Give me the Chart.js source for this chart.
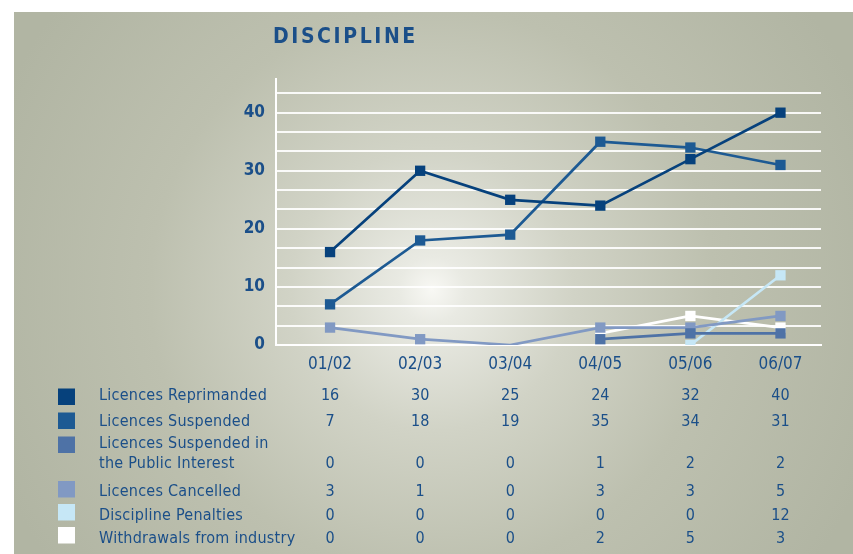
<!DOCTYPE html>
<html>
<head>
<meta charset="utf-8">
<script src="https://cdn.jsdelivr.net/npm/chart.js@4"></script>
<style>
  html, body { margin: 0; padding: 0; background: #fff; }
  #wrap { width: 853px; height: 554px; position: relative; }
</style>
</head>
<body>
<div id="wrap"><canvas id="myChart" width="853" height="554"></canvas></div>
<script>
// data
var categories = ['01/02', '02/03', '03/04', '04/05', '05/06', '06/07'];
var seriesNames = ['Licences Reprimanded', 'Licences Suspended', 'Licences Suspended in\nthe Public Interest',
  'Licences Cancelled', 'Discipline Penalties', 'Withdrawals from industry'];
var reprimanded = [16, 30, 25, 24, 32, 40];
var suspended = [7, 18, 19, 35, 34, 31];
var suspendedPublic = [0, 0, 0, 1, 2, 2];
var cancelled = [3, 1, 0, 3, 3, 5];
var penalties = [0, 0, 0, 0, 0, 12];
var withdrawals = [0, 0, 0, 2, 5, 3];
// first category where each line starts on the chart
var firstPlotted = [0, 0, 3, 0, 4, 3];
var yTickLabels = ['0', '10', '20', '30', '40'];

var allSeries = [reprimanded, suspended, suspendedPublic, cancelled, penalties, withdrawals];
var colors = ['#06417c', '#1d5a93', '#4e72a6', '#8199c3', '#c6e7f6', '#ffffff'];
var textColor = '#1b4f89';
var narrow = "'DejaVu Sans Condensed', 'DejaVu Sans', sans-serif";

var datasets = allSeries.map(function (vals, s) {
  return {
    label: seriesNames[s],
    data: vals.map(function (v, i) { return { x: i, y: i < firstPlotted[s] ? null : v }; }),
    borderColor: colors[s],
    backgroundColor: colors[s],
    borderWidth: 2.7,
    pointStyle: 'rect',
    pointRadius: function (c) { return (s === 3 && c.dataIndex === 2) ? 0 : 7.3; },
    pointBorderWidth: 0,
    tension: 0,
    spanGaps: false
  };
});

// background + title + table
var decor = {
  id: 'decor',
  beforeDraw: function (chart) {
    var ctx = chart.ctx;
    ctx.save();
    ctx.fillStyle = '#ffffff';
    ctx.fillRect(0, 0, 853, 554);
    var g = ctx.createRadialGradient(432, 290, 0, 432, 290, 470);
    g.addColorStop(0, '#f8f8f4');
    g.addColorStop(0.07, '#e9eae3');
    g.addColorStop(0.3, '#d1d3c6');
    g.addColorStop(0.6, '#bdc0af');
    g.addColorStop(1, '#b1b5a3');
    ctx.fillStyle = g;
    ctx.fillRect(14, 12, 839, 542);
    ctx.restore();
  },
  afterDraw: function (chart) {
    var ctx = chart.ctx;
    var xs = chart.scales.x;
    ctx.save();
    ctx.fillStyle = textColor;
    ctx.textBaseline = 'middle';
    ctx.letterSpacing = '2.6px';
    ctx.font = 'bold 21px ' + narrow;
    ctx.textAlign = 'left';
    ctx.fillText('DISCIPLINE', 273, 38);

    var rowY = [396, 421.5, 464, 491.5, 515.5, 538.5];
    var boxY = [388.5, 412.5, 436.5, 481, 504, 527];
    ctx.font = '16px ' + narrow;
    for (var s = 0; s < allSeries.length; s++) {
      ctx.fillStyle = colors[s];
      ctx.fillRect(58, boxY[s], 17, 16.5);
      ctx.fillStyle = textColor;
      ctx.letterSpacing = '0.25px';
      ctx.textAlign = 'left';
      var lines = seriesNames[s].split('\n');
      for (var l = 0; l < lines.length; l++) {
        ctx.fillText(lines[l], 99, rowY[s] - (lines.length - 1 - l) * 20);
      }
      ctx.letterSpacing = '0px';
      ctx.textAlign = 'center';
      for (var i = 0; i < categories.length; i++) {
        ctx.fillText(String(allSeries[s][i]), xs.getPixelForValue(i), rowY[s]);
      }
    }
    ctx.restore();
  }
};

var ctx = document.getElementById('myChart').getContext('2d');
var chart = new Chart(ctx, {
  type: 'line',
  data: { datasets: datasets },
  plugins: [decor],
  options: {
    responsive: false,
    animation: false,
    layout: { padding: { top: 79, right: 32, left: 0, bottom: 0 } },
    plugins: { legend: { display: false }, tooltip: { enabled: false } },
    scales: {
      x: {
        type: 'linear',
        min: -0.6,
        max: 5.45,
        afterBuildTicks: function (axis) {
          axis.ticks = categories.map(function (c, i) { return { value: i }; });
        },
        afterFit: function (axis) { axis.height = 554 - 345; },
        ticks: {
          padding: 9,
          autoSkip: false,
          maxRotation: 0,
          color: textColor,
          font: { family: narrow, size: 17 },
          callback: function (v) { return categories[v]; }
        },
        grid: { display: false, drawTicks: false },
        border: { color: '#ffffff', width: 2 }
      },
      y: {
        min: 0,
        max: 45.8,
        afterBuildTicks: function (axis) {
          var t = [];
          for (var k = 0; k <= 13; k++) t.push({ value: k * 10 / 3 });
          axis.ticks = t;
        },
        afterFit: function (axis) { axis.width = 276; },
        ticks: {
          padding: 11,
          autoSkip: false,
          color: textColor,
          font: { family: narrow, size: 17, weight: 'bold' },
          callback: function (v, idx) { return idx % 3 === 0 ? yTickLabels[idx / 3] : ''; }
        },
        grid: { color: 'rgba(255,255,255,0.9)', lineWidth: 2, drawTicks: false },
        border: { color: '#ffffff', width: 2 }
      }
    }
  }
});
</script>
</body>
</html>
